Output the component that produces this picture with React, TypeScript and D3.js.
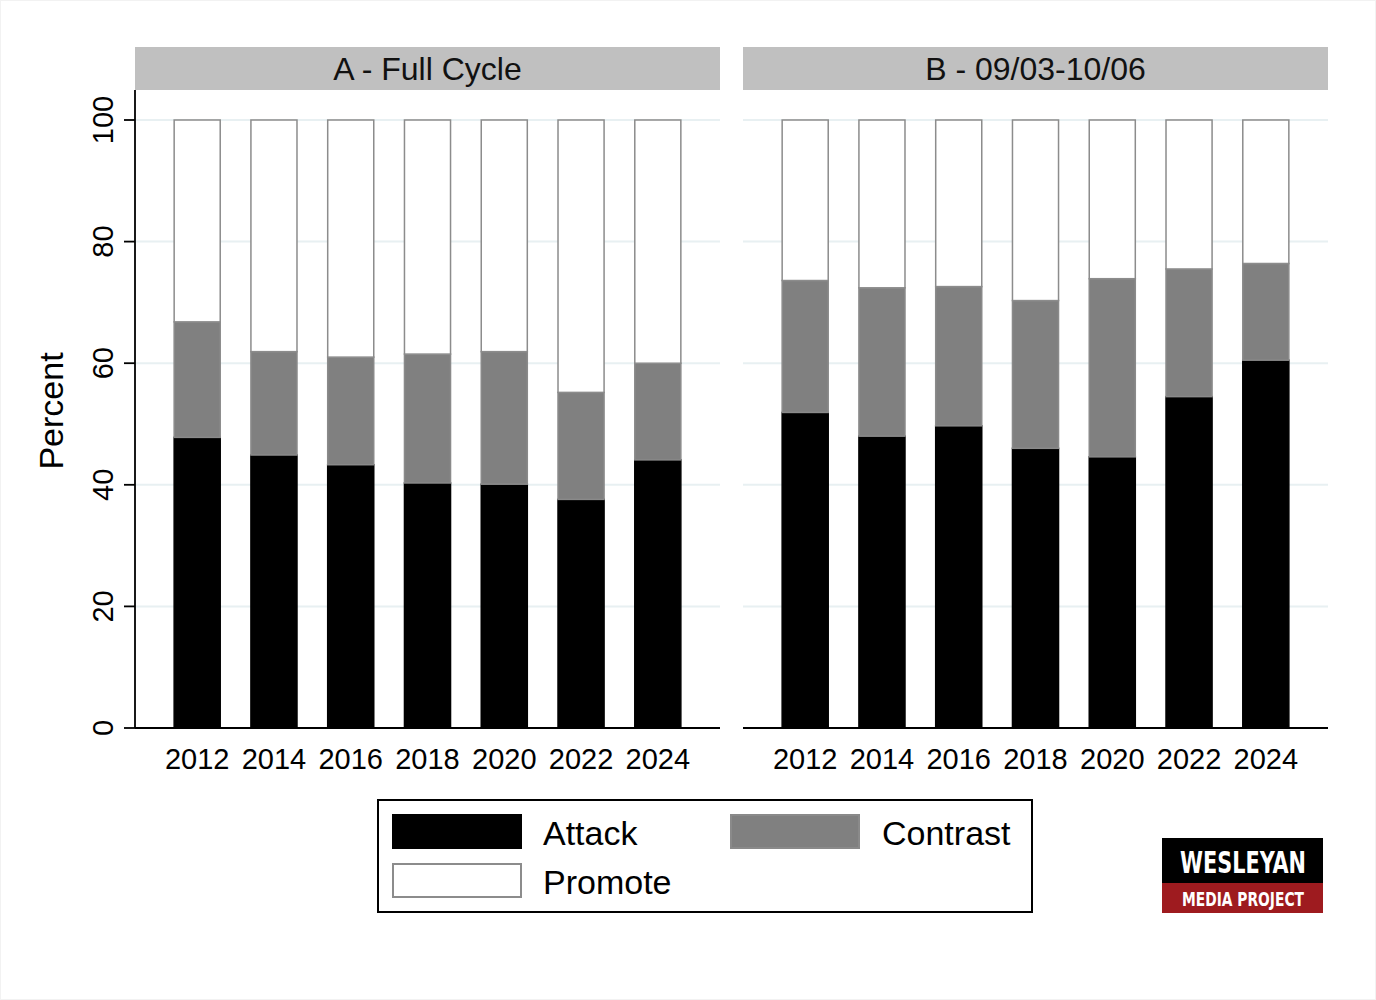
import React from "react";
import * as d3 from "d3";

const years = ["2012", "2014", "2016", "2018", "2020", "2022", "2024"];
const panelTitles = ["A - Full Cycle", "B - 09/03-10/06"];
const seriesNames = ["Attack", "Contrast", "Promote"];

const fullAttack = [47.8, 44.9, 43.3, 40.3, 40.1, 37.6, 44.1];
const fullContrast = [19.0, 17.0, 17.7, 21.2, 21.8, 17.6, 15.9];
const fullPromote = [33.2, 38.1, 39.0, 38.5, 38.1, 44.8, 40.0];

const windowAttack = [51.9, 48.0, 49.7, 46.0, 44.6, 54.5, 60.5];
const windowContrast = [21.7, 24.4, 22.9, 24.3, 29.3, 21.0, 15.9];
const windowPromote = [26.4, 27.6, 27.4, 29.7, 26.1, 24.5, 23.6];

const yTicks = [0, 20, 40, 60, 80, 100];

const fills: Record<string, string> = { Attack: "#000000", Contrast: "#808080", Promote: "#ffffff" };
const strokes: Record<string, string> = { Attack: "#000000", Contrast: "#8a8a8a", Promote: "#8c8c8c" };

const FONT = "'Liberation Sans', Arial, Helvetica, sans-serif";

function buildRows(a: number[], c: number[], p: number[]) {
  return years.map((y, i) => ({ year: y, Attack: a[i], Contrast: c[i], Promote: p[i] }));
}

const panels = [
  { title: panelTitles[0], rows: buildRows(fullAttack, fullContrast, fullPromote), x0: 135, x1: 720, yAxis: true },
  { title: panelTitles[1], rows: buildRows(windowAttack, windowContrast, windowPromote), x0: 743, x1: 1328, yAxis: false },
];

const plotTop = 90;
const plotBottom = 728;

export default function App() {
  const y = d3.scaleLinear().domain([0, 100]).range([plotBottom, 120]);
  const stack = d3.stack<any>().keys(seriesNames);

  return (
    <div style={{ position: "absolute", left: 0, top: 0 }}>
      <svg width={1376} height={1000} style={{ display: "block", background: "#fff" }} fontFamily={FONT}>
        <rect x={0.5} y={0.5} width={1375} height={999} fill="#fff" stroke="#f2f2f2" />
        {panels.map((panel, pi) => {
          const x = d3
            .scaleBand()
            .domain(years)
            .range([panel.x0, panel.x1])
            .paddingInner(0.4)
            .paddingOuter(0.51);
          const stacked = stack(panel.rows);
          return (
            <g key={pi}>
              {/* header strip */}
              <rect x={panel.x0} y={47} width={panel.x1 - panel.x0} height={43} fill="#c0c0c0" />
              <text
                x={(panel.x0 + panel.x1) / 2}
                y={80}
                textAnchor="middle"
                fontSize={32}
                fill="#111"
              >
                {panel.title}
              </text>
              {/* grid */}
              {yTicks
                .filter((t) => t > 0)
                .map((t) => (
                  <line
                    key={t}
                    x1={panel.x0}
                    x2={panel.x1}
                    y1={y(t)}
                    y2={y(t)}
                    stroke="#e8f0f2"
                    strokeWidth={2}
                  />
                ))}
              {/* bars */}
              {stacked.map((s) => (
                <g key={s.key}>
                  {s.map((d, i) => (
                    <rect
                      key={i}
                      x={x(years[i])!}
                      y={y(d[1])}
                      width={x.bandwidth()}
                      height={y(d[0]) - y(d[1])}
                      fill={fills[s.key]}
                      stroke={strokes[s.key]}
                      strokeWidth={1.5}
                    />
                  ))}
                </g>
              ))}
              {/* x axis */}
              <line x1={panel.x0} x2={panel.x1} y1={plotBottom} y2={plotBottom} stroke="#000" strokeWidth={1.8} />
              {years.map((yr) => (
                <text
                  key={yr}
                  x={x(yr)! + x.bandwidth() / 2}
                  y={769}
                  textAnchor="middle"
                  fontSize={29}
                  fill="#000"
                >
                  {yr}
                </text>
              ))}
              {/* y axis */}
              {panel.yAxis && (
                <g>
                  <line x1={panel.x0} x2={panel.x0} y1={plotTop} y2={plotBottom} stroke="#000" strokeWidth={1.8} />
                  {yTicks.map((t) => (
                    <g key={t}>
                      <line x1={panel.x0 - 11} x2={panel.x0} y1={y(t)} y2={y(t)} stroke="#000" strokeWidth={1.8} />
                      <text
                        transform={`translate(113,${y(t)}) rotate(-90)`}
                        textAnchor="middle"
                        fontSize={29}
                        fill="#000"
                      >
                        {t}
                      </text>
                    </g>
                  ))}
                  <text
                    transform={`translate(63,411) rotate(-90)`}
                    textAnchor="middle"
                    fontSize={34}
                    fill="#000"
                  >
                    Percent
                  </text>
                </g>
              )}
            </g>
          );
        })}

        {/* legend */}
        <rect x={378} y={800} width={654} height={112} fill="#fff" stroke="#000" strokeWidth={2} />
        {[
          { name: seriesNames[0], sx: 393, sy: 815, tx: 543, ty: 845 },
          { name: seriesNames[1], sx: 731, sy: 815, tx: 882, ty: 845 },
          { name: seriesNames[2], sx: 393, sy: 864, tx: 543, ty: 894 },
        ].map((l) => (
          <g key={l.name}>
            <rect
              x={l.sx}
              y={l.sy}
              width={128}
              height={33}
              fill={fills[l.name]}
              stroke={strokes[l.name]}
              strokeWidth={2}
            />
            <text x={l.tx} y={l.ty} fontSize={34} fill="#000">
              {l.name}
            </text>
          </g>
        ))}

        {/* logo */}
        <rect x={1162} y={838} width={161} height={45} fill="#000" />
        <rect x={1162} y={883} width={161} height={30} fill="#9e1b1f" />
        <text
          x={1243}
          y={873}
          textAnchor="middle"
          fontSize={31}
          fontWeight="bold"
          fill="#fff"
          fontFamily="'Liberation Sans Narrow', 'DejaVu Sans Condensed', sans-serif"
          textLength={126}
          lengthAdjust="spacingAndGlyphs"
        >
          WESLEYAN
        </text>
        <text
          x={1243}
          y={906}
          textAnchor="middle"
          fontSize={19}
          fontWeight="bold"
          fill="#fff"
          fontFamily="'Liberation Sans Narrow', 'DejaVu Sans Condensed', sans-serif"
          textLength={122}
          lengthAdjust="spacingAndGlyphs"
        >
          MEDIA PROJECT
        </text>
      </svg>
    </div>
  );
}
